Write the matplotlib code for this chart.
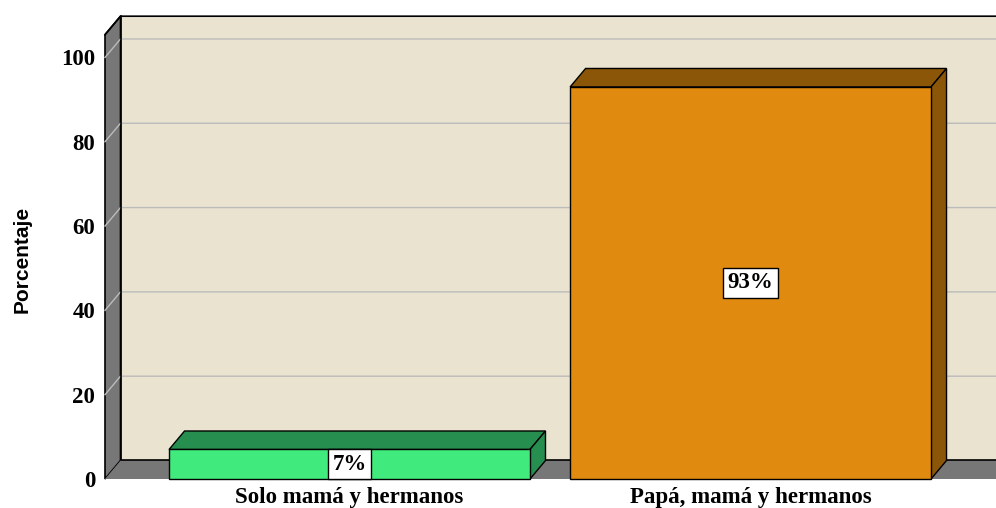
import matplotlib.pyplot as plt
from matplotlib.patches import Polygon, Rectangle

categorias = ["Solo mamá y hermanos", "Papá, mamá y hermanos"]
porcentajes = [7, 93]
etiquetas = ["7%", "93%"]
colores_frente = ["#41EA7C", "#E08A10"]
colores_lado = ["#268F4F", "#8B5608"]
yticks = [0, 20, 40, 60, 80, 100]

fig = plt.figure(figsize=(9.96, 5.08), dpi=100)
ax = fig.add_axes([105/996, 29/508, 891/996, 444.3/508])

ymax = 105.4
x0, x1 = -0.6097, 1.612
ax.set_xlim(x0, x1)
ax.set_ylim(0, ymax)
for s in ax.spines.values():
    s.set_visible(False)

# profundidad del efecto 3D en unidades de datos
DX = 15.5/401
DY = 18.5/4.215
ancho = 0.9

# paredes
pared = Rectangle((x0+DX, DY), x1-x0, ymax, fc="#EAE3D0", ec="none", clip_on=False, zorder=0)
ax.add_patch(pared)
izq = Polygon([(x0, 0), (x0+DX, DY), (x0+DX, ymax+DY), (x0, ymax)], closed=True,
              fc="#777777", ec="black", lw=1.2, clip_on=False, zorder=1)
ax.add_patch(izq)
piso = Polygon([(x0, 0), (x1+0.1, 0), (x1+0.1, DY), (x0+DX, DY)], closed=True,
               fc="#777777", ec="none", clip_on=False, zorder=1)
ax.add_patch(piso)
ax.plot([x0+DX, x0+DX, x1+0.1], [ymax+DY, DY, DY], color="black", lw=1.2, clip_on=False, zorder=2)
ax.plot([x0, x0+DX, x1+0.1], [ymax, ymax+DY, ymax+DY], color="black", lw=1.2, clip_on=False, zorder=2)

for t in yticks[1:]:
    ax.plot([x0, x0+DX, x1+0.1], [t, t+DY, t+DY], color="#BBBBBB", lw=1, clip_on=False, zorder=1.5)

# barras
for i, v in enumerate(porcentajes):
    xl, xr = i - ancho/2, i + ancho/2
    ax.add_patch(Polygon([(xl, v), (xl+DX, v+DY), (xr+DX, v+DY), (xr, v)], closed=True,
                         fc=colores_lado[i], ec="black", lw=1, clip_on=False, zorder=3))
    ax.add_patch(Polygon([(xr, 0), (xr+DX, DY), (xr+DX, v+DY), (xr, v)], closed=True,
                         fc=colores_lado[i], ec="black", lw=1, clip_on=False, zorder=3))
    ax.add_patch(Rectangle((xl, 0), ancho, v, fc=colores_frente[i], ec="black", lw=1,
                           clip_on=False, zorder=4))
    ax.text(i, v/2, etiquetas[i], ha="center", va="center", fontsize=16.5, fontweight="bold",
            family="Liberation Serif", zorder=5,
            bbox=dict(boxstyle="square,pad=0.2", fc="white", ec="black", lw=1))

ax.set_yticks(yticks)
ax.set_xticks(range(len(categorias)))
ax.set_xticklabels(categorias)
ax.tick_params(axis="y", length=0, pad=7)
ax.tick_params(axis="x", length=0, pad=6)
for lab in ax.get_xticklabels() + ax.get_yticklabels():
    lab.set_family("Liberation Serif")
    lab.set_fontweight("bold")
    lab.set_fontsize(16.5)

fig.text(22/996, 1-259/508, "Porcentaje", rotation=90, ha="center", va="center",
         fontsize=15, fontweight="bold", family="Liberation Sans")

fig.savefig("out.png", dpi=100)
